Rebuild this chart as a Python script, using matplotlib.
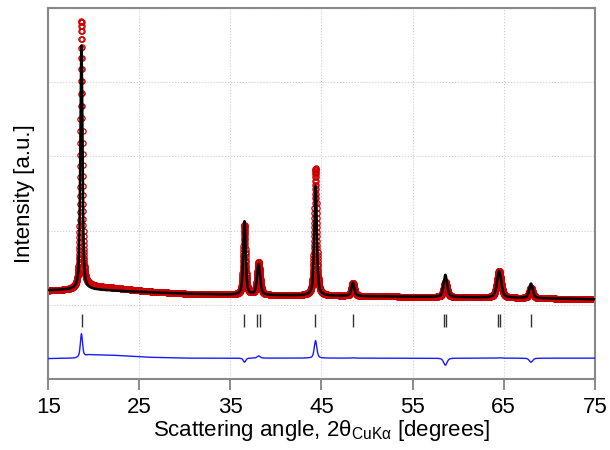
import numpy as np
import matplotlib
matplotlib.use("Agg")
import matplotlib.pyplot as plt

plt.rcParams['font.family'] = ['Liberation Sans', 'DejaVu Sans']
plt.rcParams['mathtext.fontset'] = 'custom'
plt.rcParams['mathtext.rm'] = 'Liberation Sans'

# peak table (2theta, intensity above background, FWHM)
peak_pos = [18.65, 36.55, 38.1, 44.35, 48.45, 58.6, 64.5, 68.0]
obs_height = [3600, 935, 440, 1715, 180, 205, 365, 140]
calc_height = [3290, 990, 410, 1480, 175, 300, 360, 195]
peak_fwhm = [0.28, 0.32, 0.40, 0.34, 0.38, 0.45, 0.55, 0.45]

# background levels read along the pattern
bg_x = [15, 18, 19.5, 22, 26, 30, 35, 45, 55, 65, 75]
bg_obs = [1189, 1203, 1250, 1230, 1180, 1150, 1135, 1122, 1108, 1095, 1074]
bg_calc = [1195, 1203, 1205, 1190, 1168, 1150, 1135, 1122, 1108, 1095, 1074]

# Bragg reflection positions
bragg_pos = [18.7, 36.55, 37.97, 38.2, 44.3, 48.5, 58.5, 58.65, 64.4, 64.6, 68.0]

diff_offset = 280
step = 0.01


def Profile(x, heights, bgy):
    y = np.interp(x, bg_x, bgy)
    for p, h, w in zip(peak_pos, heights, peak_fwhm):
        g = np.exp(-4 * np.log(2) * ((x - p) / w) ** 2)
        l = 1 / (1 + 4 * ((x - p) / w) ** 2)
        y = y + h * (0.5 * g + 0.5 * l)
    return y


tth = np.arange(15, 75 + step / 2, step)
yobs = Profile(tth, obs_height, bg_obs)
ycalc = Profile(tth, calc_height, bg_calc)
ydiff = yobs - ycalc + diff_offset

fig = plt.figure(figsize=(6.1, 4.5), dpi=100)
ax = fig.add_axes([0.079, 0.158, 0.896, 0.824])

ax.plot(tth, yobs, 'o', mfc='none', mec='#cc0000', ms=3.8, mew=0.9, zorder=2)
ax.plot(tth, ycalc, color='black', lw=1.8, zorder=3)
ax.vlines(bragg_pos, 700, 880, color='#333333', lw=1.0, zorder=3)
ax.plot(tth, ydiff, color='#1a1aff', lw=1.0, zorder=3)

ax.set_xlim(15, 75)
ax.set_ylim(0, 5000)
ax.set_xticks(range(15, 76, 10))
ax.set_yticks(range(0, 5001, 1000))
ax.set_yticklabels([])
ax.tick_params(axis='y', length=0)
ax.tick_params(axis='x', length=8, width=1.2, color='#777777', labelsize=16, pad=5)
ax.grid(True, ls=':', color='#cccccc', lw=0.8)
ax.set_axisbelow(True)
for s in ax.spines.values():
    s.set_color('#888888')
    s.set_linewidth(1.5)

ax.set_xlabel(r'Scattering angle, 2θ$_\mathregular{CuKα}$ [degrees]', fontsize=16, labelpad=0)
ax.set_ylabel('Intensity [a.u.]', fontsize=16, labelpad=6)

fig.savefig('out.png', dpi=100)
